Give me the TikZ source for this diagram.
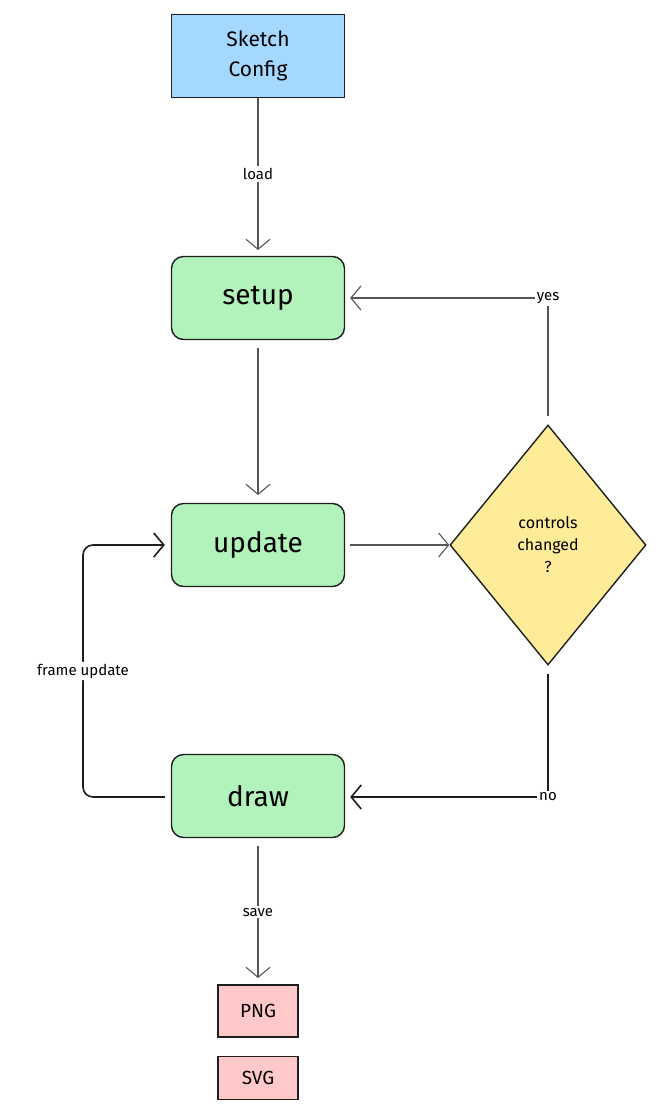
\documentclass[tikz,border=0pt]{standalone}
\usepackage{fontspec}
\setmainfont{Fira Sans}
\usetikzlibrary{arrows.meta,shapes.geometric}
\definecolor{cblue}{HTML}{A5D8FF}
\definecolor{cgreen}{HTML}{B2F2BB}
\definecolor{cyel}{HTML}{FFEC99}
\definecolor{cred}{HTML}{FFC9C9}
\definecolor{ink}{HTML}{1E1E1E}
\tikzset{
  box/.style={draw=ink,line width=1.4pt,minimum width=173pt,minimum height=83pt,inner sep=0pt},
  gbox/.style={box,fill=cgreen,rounded corners=12pt,font=\fontsize{28}{30}\selectfont},
  rbox/.style={draw=ink,line width=1.4pt,fill=cred,minimum width=80pt,inner sep=0pt,font=\fontsize{19}{20}\selectfont},
  arr/.style={draw=ink,line width=1.6pt,-{Straight Barb[length=10pt,width=24pt,line width=1.6pt]}},
  thin/.style={draw=ink!75,line width=1.1pt,-{Straight Barb[length=10pt,width=24pt,line width=1.1pt]}},
  lab/.style={fill=white,inner sep=2pt,font=\fontsize{15}{17}\selectfont}
}
\begin{document}
\begin{tikzpicture}[x=1pt,y=-1pt]
\useasboundingbox (0,0) rectangle (660,1115);
\node[box,fill=cblue,font=\fontsize{21}{30}\selectfont,align=center] (cfg) at (258,56) {Sketch\\Config};
\node[gbox] (setup) at (258,298) {setup};
\node[gbox] (update) at (258,545) {update};
\node[gbox] (draw) at (258,796) {draw};
\node[diamond,draw=ink,line width=1.4pt,fill=cyel,minimum width=196pt,minimum height=240pt,inner sep=0pt,aspect=0.82,align=center,font=\fontsize{16}{22}\selectfont] (dec) at (548,545) {controls\\changed\\?};
\node[rbox,minimum height=52pt] (png) at (258,1011) {PNG};
\node[rbox,minimum height=43pt] (svg) at (258,1078) {SVG};
\coordinate (c1) at (258,250);
\coordinate (c2) at (258,495);
\coordinate (c3) at (258,978);
\draw[thin] (cfg.south) -- node[lab]{load} (c1);
\draw[thin] (setup.south) ++(0,8) -- (c2);
\draw[thin] (update.east) ++(5,0) -- (dec.west);
\coordinate (y1) at (548,298);
\coordinate (y2) at (548,797);
\draw[thin] (dec.north) ++(0,-8) -- (y1) node[lab]{yes} -- ([xshift=5pt]setup.east);
\draw[arr] (dec.south) ++(0,8) -- (y2) node[lab]{no} -- ([xshift=5pt]draw.east |- y2);
\coordinate (f1) at (83,797);
\coordinate (f2) at (83,545);
\draw[arr,rounded corners=10pt] ([xshift=-6pt]draw.west |- f1) -- (f1) -- node[lab,pos=0.5]{frame update} (f2) -- ([xshift=-6pt]update.west |- f2);
\draw[thin] (draw.south) ++(0,8) -- node[lab]{save} (c3);
\end{tikzpicture}
\end{document}
